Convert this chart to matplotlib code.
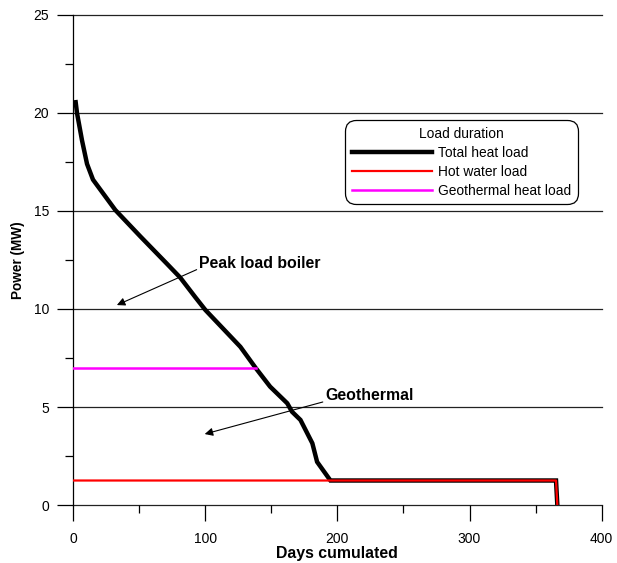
import matplotlib
matplotlib.use("Agg")
import matplotlib.pyplot as plt
from matplotlib.ticker import MultipleLocator

plt.rcParams['font.family'] = ['Liberation Sans', 'DejaVu Sans']

# Data
days_total = [1.8, 2.8, 6.6, 10.4, 14.9, 31.8, 50.8, 71, 81, 92.4, 100, 126.5, 138, 149, 162, 165.6, 172, 181, 184.6, 194.7, 365.5, 366.5]
power_total = [20.55, 20.0, 18.6, 17.4, 16.6, 15.05, 13.7, 12.3, 11.6, 10.6, 9.95, 8.07, 7.0, 6.04, 5.19, 4.76, 4.34, 3.15, 2.2, 1.25, 1.25, 0]
days_hotwater = [0, 365.5, 366.5]
power_hotwater = [1.25, 1.25, 0]
days_geo = [0, 138]
power_geo = [7.0, 7.0]

x_ticks = [0, 100, 200, 300, 400]
y_ticks = [0, 5, 10, 15, 20, 25]

fig = plt.figure(figsize=(6.17, 5.63), dpi=100)
ax = fig.add_axes([0.1188, 0.103, 0.8562, 0.8704])

for yt in y_ticks:
    ax.axhline(yt, color='#222222', lw=0.9, zorder=1, clip_on=False)

ax.plot(days_total, power_total, color='black', lw=3.2, solid_joinstyle='miter', zorder=3, label='Total heat load')
ax.plot(days_hotwater, power_hotwater, color='#ff0000', lw=1.6, zorder=4, label='Hot water load')
ax.plot(days_geo, power_geo, color='#ff00ff', lw=1.8, zorder=4, label='Geothermal heat load')

ax.set_xlim(0, 400)
ax.set_ylim(0, 25)
ax.set_xticks(x_ticks)
ax.set_yticks(y_ticks)
ax.xaxis.set_minor_locator(MultipleLocator(50))
ax.yaxis.set_minor_locator(MultipleLocator(2.5))
ax.tick_params(axis='both', which='major', length=11.5, width=0.9, color='black', labelsize=10)
ax.tick_params(axis='x', which='major', pad=8)
ax.tick_params(axis='y', which='major', pad=6)
ax.tick_params(axis='both', which='minor', length=5.5, width=0.9, color='black')

for s in ['top', 'right']:
    ax.spines[s].set_visible(False)
ax.spines['left'].set_linewidth(0.9)
ax.spines['bottom'].set_visible(False)

ax.set_xlabel('Days cumulated', fontsize=11.4, fontweight='bold', labelpad=0)
ax.set_ylabel('Power (MW)', fontsize=9.8, fontweight='bold', labelpad=6)

ax.annotate('Peak load boiler', xy=(33, 10.2), xytext=(95.5, 12.3),
            fontsize=11.4, fontweight='bold', va='center', ha='left',
            arrowprops=dict(arrowstyle='-|>', color='black', lw=0.8,
                            mutation_scale=12, shrinkA=0, shrinkB=0,
                            relpos=(0, 0.2)))
ax.annotate('Geothermal', xy=(99.5, 3.62), xytext=(191, 5.6),
            fontsize=11.4, fontweight='bold', va='center', ha='left',
            arrowprops=dict(arrowstyle='-|>', color='black', lw=0.8,
                            mutation_scale=12, shrinkA=0, shrinkB=0,
                            relpos=(0, 0.1)))

leg = ax.legend(title='Load duration', loc='upper right', bbox_to_anchor=(0.955, 0.786),
                fontsize=9.9, title_fontsize=9.9, frameon=True, fancybox=True,
                edgecolor='black', framealpha=1, handlelength=5.8,
                labelspacing=0.36, borderpad=0.5, handletextpad=0.45,
                borderaxespad=0)
leg.get_frame().set_linewidth(0.9)
leg.get_frame().set_boxstyle('round,pad=0,rounding_size=0.8')

fig.savefig('out.png', dpi=100)
